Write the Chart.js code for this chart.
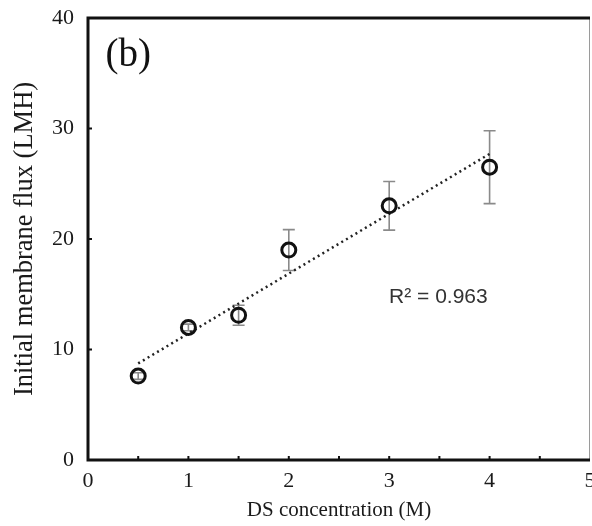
<!DOCTYPE html>
<html>
<head>
<meta charset="utf-8">
<script src="https://cdn.jsdelivr.net/npm/chart.js@4/dist/chart.umd.min.js"></script>
<style>
  html, body { margin: 0; padding: 0; background: #fff; }
  #wrap { width: 592px; height: 526px; position: relative; }
</style>
</head>
<body>
<div id="wrap"><canvas id="c"></canvas></div>
<script>
// ---- data ----
const concentrations = [0.5, 1.0, 1.5, 2.0, 3.0, 4.0];
const fluxValues = [7.6, 12.0, 13.1, 19.0, 23.0, 26.5];
const fluxErrors = [0.3, 0.3, 0.9, 1.85, 2.2, 3.3];
const xTicks = [0, 1, 2, 3, 4, 5];
const yTicks = [0, 10, 20, 30, 40];
const panelLabel = "(b)";
const r2Label = "R\u00B2 = 0.963";
const xTitle = "DS concentration (M)";
const yTitle = "Initial membrane flux (LMH)";

// linear least-squares trendline through the data
function linFit(xs, ys) {
  const n = xs.length;
  const mx = xs.reduce((a, b) => a + b, 0) / n;
  const my = ys.reduce((a, b) => a + b, 0) / n;
  let sxy = 0, sxx = 0;
  for (let i = 0; i < n; i++) { sxy += (xs[i] - mx) * (ys[i] - my); sxx += (xs[i] - mx) ** 2; }
  const m = sxy / sxx;
  return { m, b: my - m * mx };
}
const fit = linFit(concentrations, fluxValues);
const xMinFit = Math.min(...concentrations), xMaxFit = Math.max(...concentrations);
const trendPoints = [xMinFit, xMaxFit].map(x => ({ x, y: fit.m * x + fit.b }));
const points = concentrations.map((x, i) => ({ x, y: fluxValues[i] }));

const SERIF = "'Liberation Serif', 'Times New Roman', serif";
const SANS = "'Liberation Sans', Arial, sans-serif";

const errorBarPlugin = {
  id: 'errorBars',
  beforeDatasetsDraw(chart) {
    const { ctx, scales: { x, y } } = chart;
    ctx.save();
    ctx.strokeStyle = '#8a8a8a';
    ctx.lineWidth = 1.6;
    const cap = 6;
    concentrations.forEach((cx, i) => {
      const px = x.getPixelForValue(cx);
      const top = y.getPixelForValue(fluxValues[i] + fluxErrors[i]);
      const bot = y.getPixelForValue(fluxValues[i] - fluxErrors[i]);
      ctx.beginPath();
      ctx.moveTo(px, top); ctx.lineTo(px, bot);
      ctx.moveTo(px - cap, top); ctx.lineTo(px + cap, top);
      ctx.moveTo(px - cap, bot); ctx.lineTo(px + cap, bot);
      ctx.stroke();
    });
    ctx.restore();
  }
};

const framePlugin = {
  id: 'frame',
  afterDatasetsDraw(chart) {
    const { ctx, chartArea: a, scales: { x, y } } = chart;
    ctx.save();
    // right border thin gray
    ctx.strokeStyle = '#9a9a9a';
    ctx.lineWidth = 1;
    ctx.beginPath();
    ctx.moveTo(a.right - 0.5, a.top); ctx.lineTo(a.right - 0.5, a.bottom);
    ctx.stroke();
    // left, bottom, top thick black
    ctx.strokeStyle = '#111';
    ctx.lineWidth = 3;
    ctx.beginPath();
    ctx.moveTo(a.right, a.top); ctx.lineTo(a.left, a.top);
    ctx.lineTo(a.left, a.bottom); ctx.lineTo(a.right, a.bottom);
    ctx.stroke();
    // inward ticks
    ctx.lineWidth = 2;
    ctx.beginPath();
    for (let v = 0.5; v < 5; v += 0.5) {
      const px = x.getPixelForValue(v);
      ctx.moveTo(px, a.bottom); ctx.lineTo(px, a.bottom - 4);
    }
    yTicks.slice(1, -1).forEach(v => {
      const py = y.getPixelForValue(v);
      ctx.moveTo(a.left, py); ctx.lineTo(a.left + 4, py);
    });
    ctx.stroke();
    // annotations
    ctx.fillStyle = '#111';
    ctx.textAlign = 'center';
    ctx.textBaseline = 'middle';
    ctx.font = "39px " + SERIF;
    ctx.fillText(panelLabel, x.getPixelForValue(0.4), y.getPixelForValue(36.6));
    ctx.fillStyle = '#333';
    ctx.font = "21px " + SANS;
    ctx.fillText(r2Label, x.getPixelForValue(3.49), y.getPixelForValue(14.7));
    ctx.restore();
  }
};

new Chart(document.getElementById('c'), {
  type: 'scatter',
  data: {
    datasets: [
      {
        label: 'trend',
        type: 'line',
        data: trendPoints,
        borderColor: '#222',
        borderWidth: 2.5,
        borderDash: [2, 3.5],
        pointRadius: 0,
        fill: false,
        order: 2
      },
      {
        label: 'flux',
        data: points,
        pointStyle: 'circle',
        pointRadius: 7,
        pointBorderWidth: 3,
        borderColor: '#111',
        backgroundColor: 'rgba(0,0,0,0)',
        order: 1
      }
    ]
  },
  options: {
    responsive: true,
    maintainAspectRatio: false,
    animation: false,
    layout: { autoPadding: false, padding: { left: 0, right: 2, top: 18, bottom: 0 } },
    plugins: { legend: { display: false }, tooltip: { enabled: false } },
    scales: {
      x: {
        type: 'linear', min: 0, max: 5,
        grid: { display: false, drawTicks: false },
        border: { display: false },
        afterBuildTicks: s => { s.ticks = xTicks.map(v => ({ value: v })); },
        ticks: { color: '#1a1a1a', font: { family: SERIF, size: 22 }, padding: 8, maxRotation: 0 },
        title: { display: true, text: xTitle, color: '#1a1a1a', font: { family: SERIF, size: 21 }, padding: { top: 0, bottom: 3 } },
        afterFit: s => { s.height = 66; s.paddingLeft = 0; s.paddingRight = 0; }
      },
      y: {
        type: 'linear', min: 0, max: 40,
        grid: { display: false, drawTicks: false },
        border: { display: false },
        afterBuildTicks: s => { s.ticks = yTicks.map(v => ({ value: v })); },
        ticks: { color: '#1a1a1a', font: { family: SERIF, size: 22 }, padding: 14 },
        title: { display: true, text: yTitle, color: '#1a1a1a', font: { family: SERIF, size: 26.5 }, padding: { top: 9, bottom: 0 } },
        afterFit: s => { s.width = 88; s.paddingTop = 0; s.paddingBottom = 0; }
      }
    }
  },
  plugins: [errorBarPlugin, framePlugin]
});
</script>
</body>
</html>
